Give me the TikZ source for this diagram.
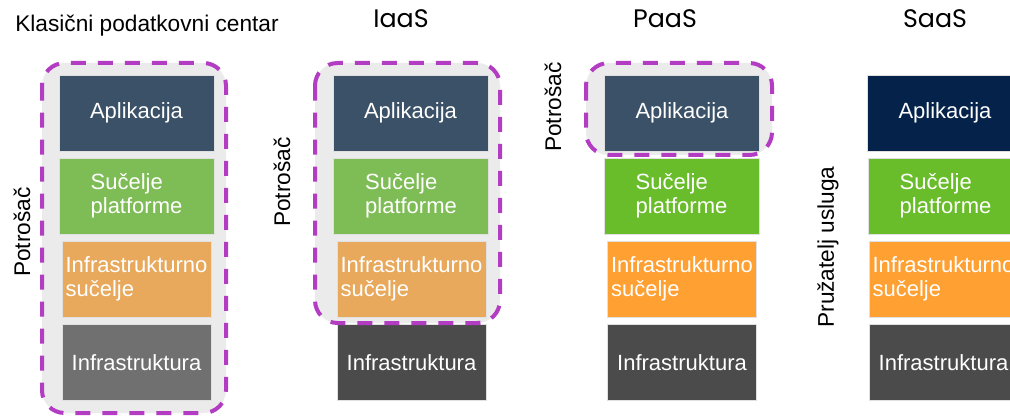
\documentclass[tikz,border=0pt]{standalone}
\usepackage{fontspec}
\setmainfont{Liberation Sans}
\newfontfamily\headfont{Poppins}
\definecolor{appslate}{HTML}{3B5167}
\definecolor{appnavy}{HTML}{05234A}
\definecolor{platsoft}{HTML}{7EBD55}
\definecolor{platbright}{HTML}{6ABD2A}
\definecolor{infsoft}{HTML}{E8A95C}
\definecolor{infbright}{HTML}{FFA033}
\definecolor{infrmid}{HTML}{707070}
\definecolor{infrdark}{HTML}{4B4B4B}
\definecolor{userline}{HTML}{B23CC2}
\definecolor{userfill}{HTML}{EBEBEB}
\begin{document}
\begin{tikzpicture}[x=0.75pt,y=-0.75pt]
\tikzstyle{layer} = [draw=black!12, inner sep=0pt, align=left, text=white, font=\fontsize{16.5}{18}\selectfont, minimum height=76*0.75pt]
\tikzstyle{wide} = [layer, minimum width=155*0.75pt]
\tikzstyle{narrow} = [layer, minimum width=149*0.75pt]
\tikzstyle{side} = [rotate=90, font=\fontsize{17}{20}\selectfont]
\tikzstyle{head} = [anchor=base, font=\headfont\fontsize{19}{22}\selectfont]
\tikzstyle{userbg} = [fill=userfill, rounded corners=17pt]
\tikzstyle{userborder} = [draw=userline, line width=3pt, dash pattern=on 11.25pt off 9pt, rounded corners=17pt]
\useasboundingbox (0,0) rectangle (1010,417);
	\fill[userbg] (42,63) rectangle (226,413);
	\fill[userbg] (315,63) rectangle (500,323);
	\fill[userbg] (586,63) rectangle (772,155);
	\node[anchor=base, font=\fontsize{17}{20}\selectfont] (klasHead) at (147,31.7) {Klasični podatkovni centar};
	\node[head] (iaasHead) at (401,28) {IaaS};
	\node[head] (paasHead) at (665,28) {PaaS};
	\node[head] (saasHead) at (935,28) {SaaS};
	\node[wide, fill=appslate] (klasApp) at (136.5,113) {Aplikacija};
	\node[wide, fill=platsoft] (klasPlat) at (136.5,196) {Sučelje\\platforme};
	\node[narrow, fill=infsoft] (klasIface) at (136.5,279) {Infrastrukturno\\sučelje};
	\node[narrow, fill=infrmid] (klasInfra) at (136.5,362.5) {Infrastruktura};
	\node[wide, fill=appslate] (iaasApp) at (410.5,113) {Aplikacija};
	\node[wide, fill=platsoft] (iaasPlat) at (411,196) {Sučelje\\platforme};
	\node[narrow, fill=infsoft] (iaasIface) at (411.5,279) {Infrastrukturno\\sučelje};
	\node[narrow, fill=infrdark] (iaasInfra) at (411.5,362.5) {Infrastruktura};
	\node[wide, fill=appslate] (paasApp) at (682,113) {Aplikacija};
	\node[wide, fill=platbright] (paasPlat) at (681.5,196) {Sučelje\\platforme};
	\node[narrow, fill=infbright] (paasIface) at (682,279) {Infrastrukturno\\sučelje};
	\node[narrow, fill=infrdark] (paasInfra) at (682,362.5) {Infrastruktura};
	\node[wide, fill=appnavy] (saasApp) at (945,113) {Aplikacija};
	\node[wide, fill=platbright] (saasPlat) at (945.5,196) {Sučelje\\platforme};
	\node[narrow, fill=infbright] (saasIface) at (943.5,279) {Infrastrukturno\\sučelje};
	\node[narrow, fill=infrdark] (saasInfra) at (943.5,362.5) {Infrastruktura};
	\draw[userborder] (42,63) rectangle (226,413);
	\draw[userborder] (315,63) rectangle (500,323);
	\draw[userborder] (586,63) rectangle (772,155);
	\node[side] (klasUser) at (22,232) {Potrošač};
	\node[side] (iaasUser) at (282,182) {Potrošač};
	\node[side] (paasUser) at (553,107) {Potrošač};
	\node[side] (saasProv) at (828,247) {Pružatelj usluga};
\end{tikzpicture}
\end{document}
